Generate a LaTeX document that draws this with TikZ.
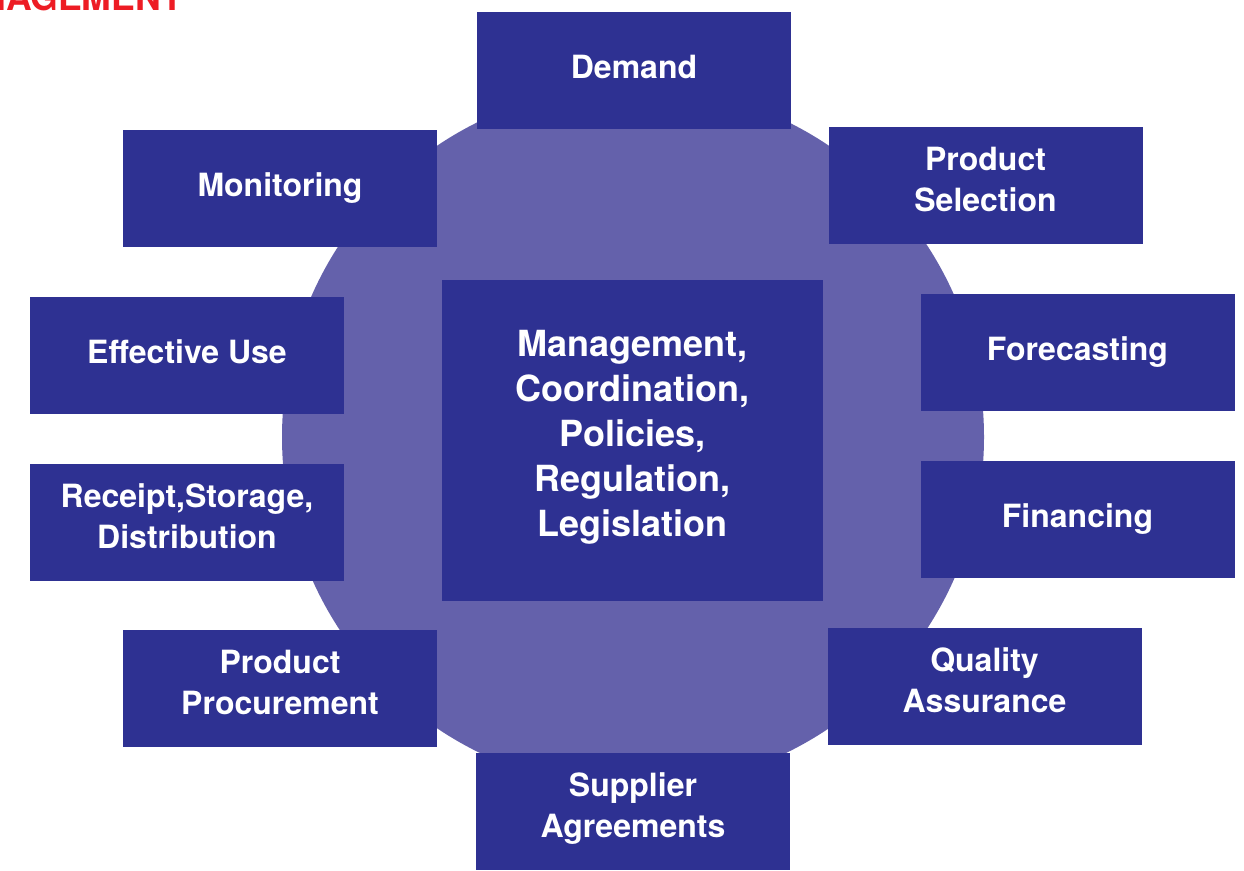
\documentclass[tikz,border=0pt]{standalone}
\usepackage{fontspec}
\setmainfont{TeX Gyre Heros}
\usepackage{tikz}
\usetikzlibrary{positioning}
\definecolor{boxblue}{HTML}{2E3192}
\definecolor{ringblue}{HTML}{6461AB}
\definecolor{titlered}{HTML}{ED1C24}
\tikzstyle{part}   = [rectangle, fill=boxblue, text=white, inner sep=0pt, minimum width=314pt, minimum height=117pt, align=center, font=\fontsize{32}{41}\selectfont\bfseries, execute at begin node=\strut, execute at end node=\strut]
\tikzstyle{core}   = [part, minimum width=381pt, minimum height=321pt, font=\fontsize{36}{45}\selectfont\bfseries]
\tikzstyle{title}  = [inner sep=0pt, text=titlered, font=\fontsize{35.6}{40}\selectfont\bfseries]

\begin{document}
\begin{tikzpicture}[x=1pt, y=-1pt]
        \useasboundingbox (0,0) rectangle (1244,870);
        \node[title, anchor=base east] (heading) at (183,10) {NAGEMENT};

        \fill[ringblue] (633,437) circle [radius=351pt];

        \node[core] (centre) at (632.5,440.5) {Management,\\Coordination,\\Policies,\\Regulation,\\Legislation};

        \node[part] (demand)      at (634,70)      {Demand};
        \node[part] (selection)   at (985.5,185.5) {Product\\Selection};
        \node[part] (forecast)    at (1077.5,352.5){Forecasting};
        \node[part] (financing)   at (1077.5,519.5){Financing};
        \node[part] (quality)     at (984.5,686.5) {Quality\\Assurance};
        \node[part] (supplier)    at (633,811.5)   {Supplier\\Agreements};
        \node[part] (procurement) at (280,688)     {Product\\Procurement};
        \node[part] (receipt)     at (187,522)     {Receipt,Storage,\\Distribution};
        \node[part] (use)         at (187,355)     {Effective Use};
        \node[part] (monitoring)  at (280,188.5)   {Monitoring};
    \end{tikzpicture}
\end{document}
